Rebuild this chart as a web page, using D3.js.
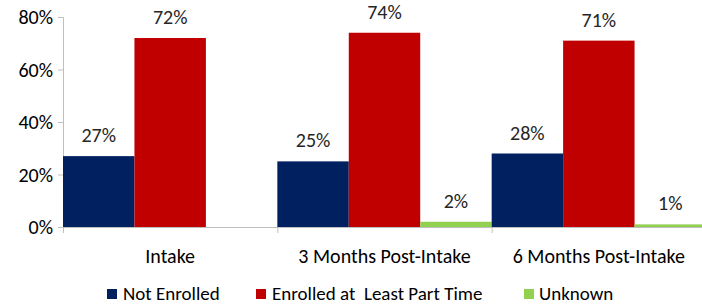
<!DOCTYPE html>
<html>
<head>
<meta charset="utf-8">
<script src="https://cdn.jsdelivr.net/npm/d3@7"></script>
<style>
  body { margin: 0; background: #fff; }
  svg text { font-family: Carlito, 'Liberation Sans Narrow', 'Liberation Sans', sans-serif; fill: #000; }
</style>
</head>
<body>
<div id="chart"></div>
<script>
// data
var categories = ['Intake', '3 Months Post-Intake', '6 Months Post-Intake']
var seriesNames = ['Not Enrolled', 'Enrolled at  Least Part Time', 'Unknown']
var notEnrolled = [27, 25, 28]
var enrolled = [72, 74, 71]
var unknown = [null, 2, 1]
var yTicks = [0, 20, 40, 60, 80]
var colors = ['#002060', '#C00000', '#92D050']

var svgWidth = 702
var svgHeight = 307
var margin = { top: 17, right: -4, bottom: 80, left: 63 }
var width = svgWidth - margin.left - margin.right
var height = svgHeight - margin.top - margin.bottom

var svg = d3.select('#chart').append('svg')
  .attr('width', svgWidth)
  .attr('height', svgHeight)
  .style('display', 'block')

var chartGroup = svg.append('g')
  .attr('transform', `translate(${margin.left}, ${margin.top})`)

var x0 = d3.scaleBand().domain(categories).range([0, width]).padding(0)
var x1 = d3.scaleBand().domain(seriesNames).range([0, x0.bandwidth()]).padding(0)
var y = d3.scaleLinear().domain([0, 80]).range([height, 0])

var series = [notEnrolled, enrolled, unknown]
var rows = []
categories.forEach((c, i) => {
  seriesNames.forEach((s, j) => {
    if (series[j][i] != null) rows.push({ cat: c, name: s, value: series[j][i], color: colors[j] })
  })
})

// y axis
var leftAxis = d3.axisLeft(y).tickValues(yTicks).tickSize(5).tickPadding(5).tickFormat(d => d + '%')
var yg = chartGroup.append('g').call(leftAxis)
yg.select('.domain').attr('stroke', '#BFBFBF').attr('d', `M-5,0.5H0.5V${height}`)
yg.selectAll('.tick line').attr('stroke', '#BFBFBF')
yg.selectAll('.tick text').style('font-size', '20px').attr('fill', '#000').attr('dy', '0.34em')

// bars
chartGroup.selectAll('rect.bar')
  .data(rows)
  .enter()
  .append('rect')
  .attr('class', 'bar')
  .attr('x', d => x0(d.cat) + x1(d.name))
  .attr('y', d => y(d.value))
  .attr('width', x1.bandwidth())
  .attr('height', d => height - y(d.value))
  .attr('fill', d => d.color)

// value labels
chartGroup.selectAll('text.val')
  .data(rows)
  .enter()
  .append('text')
  .attr('class', 'val')
  .attr('x', d => x0(d.cat) + x1(d.name) + x1.bandwidth() / 2)
  .attr('y', d => y(d.value) - 14)
  .attr('text-anchor', 'middle')
  .style('font-size', '20px')
  .style('fill', '#262626')
  .text(d => d.value + '%')

// x axis
var xg = chartGroup.append('g').attr('transform', `translate(0, ${height})`)
xg.append('line')
  .attr('x1', 0).attr('x2', width)
  .attr('y1', 0.5).attr('y2', 0.5)
  .attr('stroke', '#BFBFBF')
xg.selectAll('line.tk')
  .data(categories)
  .enter()
  .append('line')
  .attr('class', 'tk')
  .attr('x1', d => x0(d) + 0.5).attr('x2', d => x0(d) + 0.5)
  .attr('y1', 0).attr('y2', 6)
  .attr('stroke', '#BFBFBF')
xg.selectAll('text')
  .data(categories)
  .enter()
  .append('text')
  .attr('x', d => x0(d) + x0.bandwidth() / 2)
  .attr('y', 36)
  .attr('text-anchor', 'middle')
  .style('font-size', '20px')
  .text(d => d)

// legend
var legendX = [107, 256, 524]
var legend = svg.append('g').attr('transform', 'translate(0, 294)')
var items = legend.selectAll('g')
  .data(seriesNames)
  .enter()
  .append('g')
  .attr('transform', (d, i) => `translate(${legendX[i]}, 0)`)
items.append('rect')
  .attr('x', 0).attr('y', -5)
  .attr('width', 10).attr('height', 10)
  .attr('fill', (d, i) => colors[i])
items.append('text')
  .attr('x', (d, i) => i === 2 ? 15 : 16)
  .attr('y', 0)
  .attr('dy', '0.34em')
  .style('font-size', '19px')
  .style('white-space', 'pre')
  .text(d => d)
</script>
</body>
</html>
